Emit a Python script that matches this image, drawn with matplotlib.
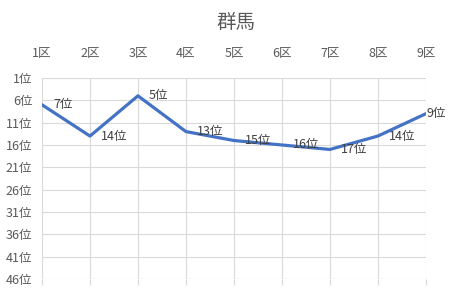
import matplotlib
matplotlib.use("Agg")
import matplotlib.pyplot as plt

plt.rcParams['font.family'] = ['Noto Sans CJK JP', 'DejaVu Sans']

# data
districts = ['1区', '2区', '3区', '4区', '5区', '6区', '7区', '8区', '9区']
ranks = [7, 14, 5, 13, 15, 16, 17, 14, 9]
rank_ticks = [1, 6, 11, 16, 21, 26, 31, 36, 41, 46]
title = '群馬'

grid_col = '#d9d9d9'
text_col = '#595959'
line_col = '#4472c4'

fig = plt.figure(figsize=(4.49, 3.01), dpi=100)
ax = fig.add_axes([0.0935, 0.073, 0.855, 0.668])

x = list(range(len(districts)))
ax.plot(x, ranks, color=line_col, lw=2.3, solid_capstyle='round', zorder=3)

for xi, r in zip(x, ranks):
    # last label gets squeezed against the right edge, as in the original
    dx = 0.5 if xi == x[-1] else 8
    ax.annotate(f'{r}位', (xi, r), xytext=(dx, 0), textcoords='offset points',
                ha='left', va='center', fontsize=9, color='#404040', zorder=4)

ax.set_xlim(0, len(districts) - 1)
ax.set_ylim(46, 1)

ax.set_yticks(rank_ticks)
ax.set_yticklabels([f'{t}位' for t in rank_ticks])
ax.set_xticks(x)
ax.set_xticklabels(districts)

ax.xaxis.set_ticks_position('bottom')
ax.tick_params(axis='x', which='both', labelbottom=False, labeltop=True,
               bottom=True, top=False, length=4, color=grid_col, width=0.8,
               labelsize=9, labelcolor=text_col, pad=9)
ax.tick_params(axis='y', length=0, labelsize=9, labelcolor=text_col, pad=7)

ax.grid(True, color=grid_col, lw=0.8)
ax.set_axisbelow(True)
for s in ax.spines.values():
    s.set_visible(False)

fig.text(0.526, 0.925, title, ha='center', va='center', fontsize=14, color=text_col)

fig.savefig('out.png', dpi=100)
